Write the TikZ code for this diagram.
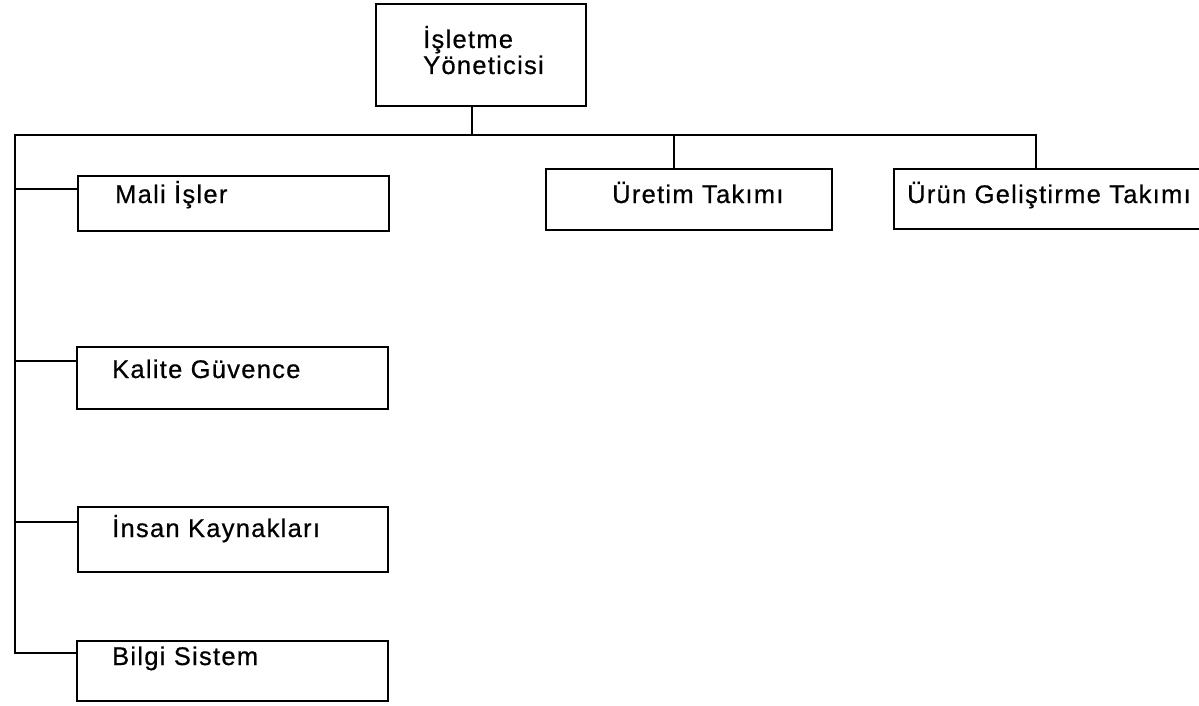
\documentclass[tikz,border=0pt]{standalone}
\usepackage{fontspec}
\setmainfont{Liberation Sans}[LetterSpace=5,FakeBold=0.6]
\begin{document}
\begin{tikzpicture}[x=1pt,y=-1pt,
  box/.style={draw=black, line width=2pt, rectangle, inner sep=0pt},
  lbl/.style={anchor=base west, inner sep=0pt, font=\fontsize{25.5}{25}\selectfont},
  wire/.style={draw=black, line width=1.9pt, line join=miter}]
\fill[white] (0,0) rectangle (1199,706);
\clip (0,0) rectangle (1199,706);

% boxes
\node[box, minimum width=210pt, minimum height=102pt] (top)    at (481,55)    {};
\node[box, minimum width=311pt, minimum height=55pt]  (mali)   at (233.5,203.5) {};
\node[box, minimum width=311pt, minimum height=62pt]  (kalite) at (232.5,378) {};
\node[box, minimum width=310pt, minimum height=65pt]  (insan)  at (233,539.5) {};
\node[box, minimum width=311pt, minimum height=60pt]  (bilgi)  at (232.5,671) {};
\node[box, minimum width=286pt, minimum height=61pt]  (uretim) at (689,199.5) {};
\node[box, minimum width=321pt, minimum height=60pt]  (urun)   at (1054.5,199) {};

% labels
\node[lbl] (topA)  at (423,48)  {İşletme};
\node[lbl] (topB)  at (423,74)  {Yöneticisi};
\node[lbl] (maliT) at (115,203) {Mali İşler};
\node[lbl] (kalT)  at (112,378) {Kalite Güvence};
\node[lbl] (insT)  at (112,537) {İnsan Kaynakları};
\node[lbl] (bilT)  at (112,665) {Bilgi Sistem};
\node[lbl] (uretT) at (612,203) {Üretim Takımı};
\node[lbl] (urunT) at (907,203) {Ürün Geliştirme Takımı};

% bus and spine
\coordinate (busL)   at (15,135);
\coordinate (busR)   at (1036,135);
\coordinate (busTop) at (472,135);
\coordinate (busU)   at (674,135);
\coordinate (jM) at (15,189);
\coordinate (jK) at (15,361);
\coordinate (jI) at (15,522);
\coordinate (jB) at (15,653);

\draw[wire] (jB -| bilgi.west) -- (jB) -- (busL) -- (busR) -- (busR |- urun.north);
\draw[wire] (busTop) -- (busTop |- top.south);
\draw[wire] (busU) -- (busU |- uretim.north);
\draw[wire] (jM) -- (jM -| mali.west);
\draw[wire] (jK) -- (jK -| kalite.west);
\draw[wire] (jI) -- (jI -| insan.west);
\end{tikzpicture}
\end{document}
